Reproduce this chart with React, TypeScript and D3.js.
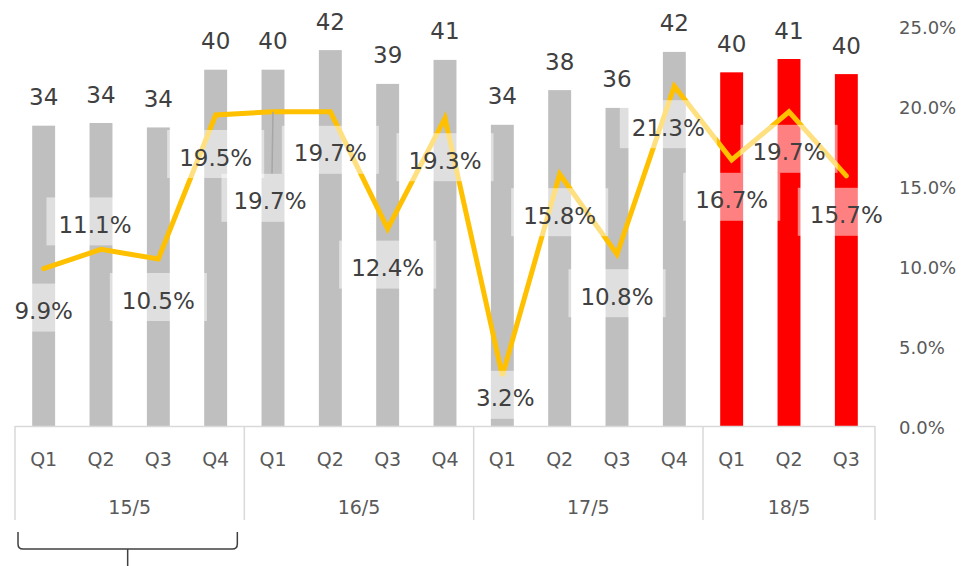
import React, { useEffect, useRef } from "react";
import * as d3 from "d3";

const quarters = ["Q1", "Q2", "Q3", "Q4", "Q1", "Q2", "Q3", "Q4", "Q1", "Q2", "Q3", "Q4", "Q1", "Q2", "Q3"];
const fiscalYears = ["15/5", "15/5", "15/5", "15/5", "16/5", "16/5", "16/5", "16/5", "17/5", "17/5", "17/5", "17/5", "18/5", "18/5", "18/5"];
const sales = [33.9, 34.2, 33.7, 40.2, 40.2, 42.4, 38.6, 41.3, 34.0, 37.9, 35.9, 42.2, 39.9, 41.4, 39.7];
const marginPct = [9.9, 11.1, 10.5, 19.5, 19.7, 19.7, 12.4, 19.3, 3.2, 15.8, 10.8, 21.3, 16.7, 19.7, 15.7];
const highlightYear = "18/5";
const pctTicks = [0, 5, 10, 15, 20, 25];
// label offsets relative to line point [dx, dy]
const labelOffsets: [number, number][] = [
  [0, 42], [-6, -25], [0, 41], [0, 42], [-3, 89], [0, 41], [0, 39], [0, 42],
  [3, 22], [0, 41], [0, 42], [-6, 41], [0, 40], [0, 40], [0, 39],
];
const leaderIdx = [4];

export default function App() {
  const ref = useRef<SVGSVGElement>(null);
  useEffect(() => {
    const svg = d3.select(ref.current);
    svg.selectAll("*").remove();
    const font = "'DejaVu Sans', Verdana, sans-serif";
    const keys = quarters.map((q, i) => fiscalYears[i] + "-" + q);
    const x = d3.scaleBand<string>().domain(keys).range([15, 875]).paddingInner(0.6).paddingOuter(0.3);
    const yBar = d3.scaleLinear().domain([0, 45]).range([427, 27]);
    const yPct = d3.scaleLinear().domain([0, 25]).range([427, 27]);
    const step = x.step();
    const cx = (i: number) => (x(keys[i]) as number) + x.bandwidth() / 2;

    // bars
    svg.append("g").selectAll("rect").data(sales).join("rect")
      .attr("x", (_, i) => x(keys[i]) as number)
      .attr("width", x.bandwidth())
      .attr("y", (d) => yBar(d))
      .attr("height", (d) => yBar(0) - yBar(d))
      .attr("fill", (_, i) => (fiscalYears[i] === highlightYear ? "#FF0000" : "#BFBFBF"));

    // bar labels
    svg.append("g").selectAll("text").data(sales).join("text")
      .attr("x", (_, i) => cx(i))
      .attr("y", (d) => yBar(d) - 29 + 8.5)
      .attr("text-anchor", "middle")
      .attr("font-family", font).attr("font-size", 23).attr("fill", "#404040")
      .text((d) => String(Math.round(d)));

    // axis baseline
    svg.append("line").attr("x1", 15).attr("x2", 875).attr("y1", 426.5).attr("y2", 426.5)
      .attr("stroke", "#D9D9D9").attr("stroke-width", 1.5);

    // group separators
    const groups = Array.from(new Set(fiscalYears));
    const bounds: number[] = [];
    groups.forEach((g) => {
      const first = fiscalYears.indexOf(g);
      bounds.push((x(keys[first]) as number) - (step - x.bandwidth()) / 2);
    });
    bounds.push(875);
    svg.append("g").selectAll("line").data(bounds).join("line")
      .attr("x1", (d) => d).attr("x2", (d) => d).attr("y1", 426).attr("y2", 520)
      .attr("stroke", "#D9D9D9").attr("stroke-width", 1.5);

    // quarter labels
    svg.append("g").selectAll("text").data(quarters).join("text")
      .attr("x", (_, i) => cx(i)).attr("y", 459 + 7)
      .attr("text-anchor", "middle").attr("font-family", font).attr("font-size", 19).attr("fill", "#595959")
      .text((d) => d);
    // year labels
    svg.append("g").selectAll("text").data(groups).join("text")
      .attr("x", (_, i) => (bounds[i] + bounds[i + 1]) / 2).attr("y", 507 + 7)
      .attr("text-anchor", "middle").attr("font-family", font).attr("font-size", 19).attr("fill", "#595959")
      .text((d) => d);

    // right axis labels
    svg.append("g").selectAll("text").data(pctTicks).join("text")
      .attr("x", 899).attr("y", (d) => yPct(d) + 7)
      .attr("font-family", font).attr("font-size", 18).attr("fill", "#595959")
      .text((d) => d.toFixed(1) + "%");

    // line
    const line = d3.line<number>().x((_, i) => cx(i)).y((d) => yPct(d));
    svg.append("path").attr("d", line(marginPct) as string).attr("fill", "none")
      .attr("stroke", "#FFC000").attr("stroke-width", 5).attr("stroke-linejoin", "miter").attr("stroke-linecap", "round");

    // leader lines
    leaderIdx.forEach((i) => {
      svg.append("line")
        .attr("x1", cx(i)).attr("y1", yPct(marginPct[i]))
        .attr("x2", cx(i) + labelOffsets[i][0] + 2).attr("y2", yPct(marginPct[i]) + labelOffsets[i][1] - 27)
        .attr("stroke", "#A6A6A6").attr("stroke-width", 1.5);
    });

    // pct labels with semi-transparent boxes
    const lg = svg.append("g");
    marginPct.forEach((v, i) => {
      const tx = cx(i) + labelOffsets[i][0];
      const ty = yPct(v) + labelOffsets[i][1];
      const g = lg.append("g");
      const rect = g.append("rect").attr("fill", "#FFFFFF").attr("fill-opacity", 0.5);
      const t = g.append("text").attr("x", tx).attr("y", ty + 8.5)
        .attr("text-anchor", "middle").attr("font-family", font).attr("font-size", 23).attr("fill", "#404040")
        .text(v.toFixed(1) + "%");
      const w = (t.node() as SVGTextElement).getComputedTextLength();
      rect.attr("x", tx - w / 2 - 12).attr("width", w + 24).attr("y", ty - 27).attr("height", 48);
    });

    // brace under first year
    const bl = bounds[0] + 3, br = bounds[1] - 7, bm = (bl + br) / 2;
    const p = d3.path();
    p.moveTo(bl, 532); p.lineTo(bl, 544); p.quadraticCurveTo(bl, 549, bl + 5, 549);
    p.lineTo(br - 5, 549); p.quadraticCurveTo(br, 549, br, 544); p.lineTo(br, 532);
    p.moveTo(bm, 549); p.lineTo(bm, 566);
    svg.append("path").attr("d", p.toString()).attr("fill", "none").attr("stroke", "#404040").attr("stroke-width", 1.5);
  }, []);
  return (
    <svg ref={ref} width={961} height={566}
      style={{ position: "fixed", left: 0, top: 0, display: "block", background: "#FFFFFF" }} />
  );
}
